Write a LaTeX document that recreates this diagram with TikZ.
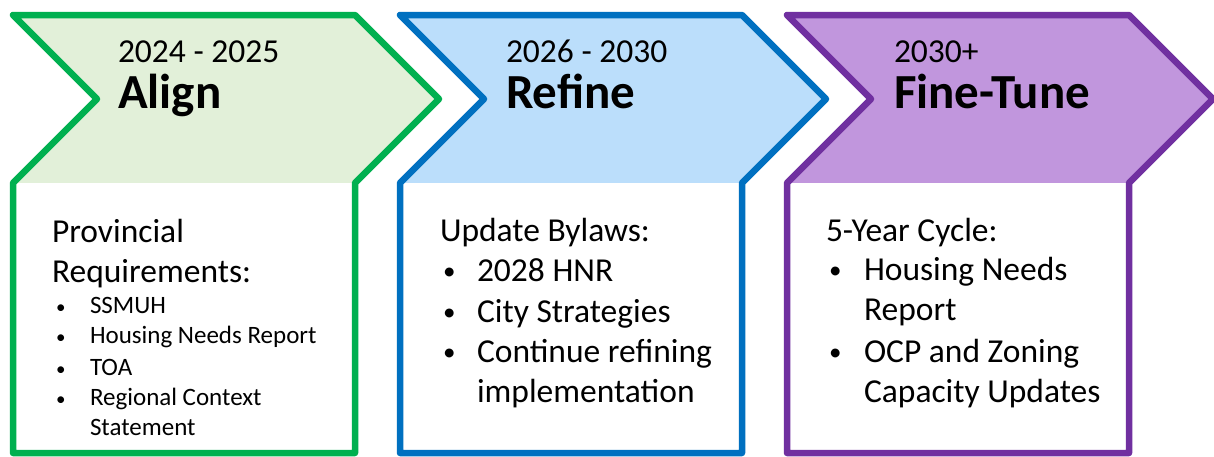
\documentclass[tikz,border=0pt]{standalone}
\usepackage{fontspec}
\setmainfont{Carlito}

\definecolor{alignline}{RGB}{0,176,80}
\definecolor{alignfill}{RGB}{226,240,217}
\definecolor{refineline}{RGB}{0,112,192}
\definecolor{refinefill}{RGB}{187,222,251}
\definecolor{tuneline}{RGB}{112,48,160}
\definecolor{tunefill}{RGB}{193,150,221}

\tikzset{
  txt/.style={anchor=base west, inner sep=0pt, outer sep=0pt},
  yeartext/.style={txt, font=\fontsize{33.5}{40}\selectfont},
  titletext/.style={txt, font=\fontsize{49}{56}\selectfont\bfseries},
  bodytext/.style={txt, font=\fontsize{33.5}{40}\selectfont},
  bodydot/.style={txt, font=\fontsize{25}{30}\selectfont},
  smalltext/.style={txt, font=\fontsize{25}{30}\selectfont},
  smalldot/.style={txt, font=\fontsize{19}{24}\selectfont},
  outline/.style={line width=6.5pt, line join=round},
}

% One stage: chevron header with a text box below it
% #1 x offset, #2 border colour, #3 header fill
\newcommand\drawstage[3]{%
  \begin{scope}[xshift=#1pt]
    \fill[#3] (13,15) -- (355,15) -- (439,99) -- (355,183) -- (13,183) -- (97,99) -- cycle;
    \fill[white] (13,183) rectangle (355,453);
    \draw[outline,#2] (13,15) -- (355,15) -- (439,99) -- (355,183) -- (355,453)
      -- (13,453) -- (13,183) -- (97,99) -- cycle;
  \end{scope}}

\begin{document}
\begin{tikzpicture}[x=1pt,y=-1pt]
  \useasboundingbox[fill=white] (0,0) rectangle (1214,456);

  \drawstage{0}{alignline}{alignfill}
  \drawstage{387}{refineline}{refinefill}
  \drawstage{774}{tuneline}{tunefill}

  % Stage 1
  \node[yeartext]  (ayear)  at (118,62)  {2024 - 2025};
  \node[titletext] (atitle) at (118,108) {Align};
  \node[bodytext]  (ab1) at (52,242) {Provincial};
  \node[bodytext]  (ab2) at (52,282) {Requirements:};
  \node[smalldot]  (ad1) at (56,313) {\textbullet};
  \node[smalltext] (ai1) at (90,313) {SSMUH};
  \node[smalldot]  (ad2) at (56,343) {\textbullet};
  \node[smalltext] (ai2) at (90,343) {Housing Needs Report};
  \node[smalldot]  (ad3) at (56,375) {\textbullet};
  \node[smalltext] (ai3) at (90,375) {TOA};
  \node[smalldot]  (ad4) at (56,405) {\textbullet};
  \node[smalltext] (ai4) at (90,405) {Regional Context};
  \node[smalltext] (ai5) at (90,435) {Statement};

  % Stage 2
  \node[yeartext]  (byear)  at (506,62)  {2026 - 2030};
  \node[titletext] (btitle) at (506,108) {Refine};
  \node[bodytext]  (bb1) at (440,241) {Update Bylaws:};
  \node[bodydot]   (bd1) at (443,279) {\textbullet};
  \node[bodytext]  (bi1) at (477,281) {2028 HNR};
  \node[bodydot]   (bd2) at (443,320) {\textbullet};
  \node[bodytext]  (bi2) at (477,322) {City Strategies};
  \node[bodydot]   (bd3) at (443,360) {\textbullet};
  \node[bodytext]  (bi3) at (477,362) {Continue refining};
  \node[bodytext]  (bi4) at (477,402) {implementation};

  % Stage 3
  \node[yeartext]  (cyear)  at (894,62)  {2030+};
  \node[titletext] (ctitle) at (894,108) {Fine-Tune};
  \node[bodytext]  (cb1) at (826,241) {5-Year Cycle:};
  \node[bodydot]   (cd1) at (829,278) {\textbullet};
  \node[bodytext]  (ci1) at (864,280) {Housing Needs};
  \node[bodytext]  (ci2) at (864,320) {Report};
  \node[bodydot]   (cd2) at (829,360) {\textbullet};
  \node[bodytext]  (ci3) at (864,362) {OCP and Zoning};
  \node[bodytext]  (ci4) at (864,402) {Capacity Updates};
\end{tikzpicture}
\end{document}
